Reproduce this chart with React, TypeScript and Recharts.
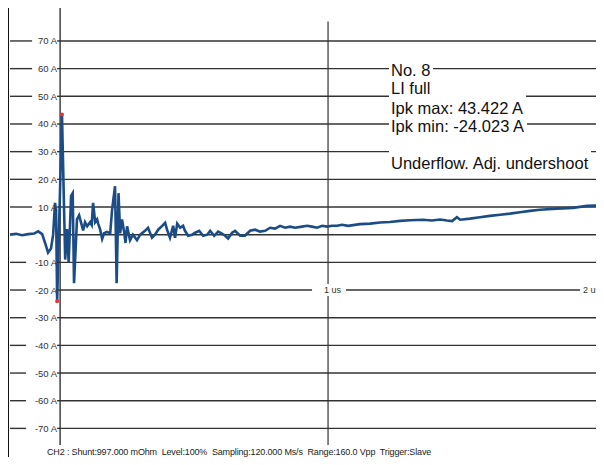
import React from 'react';
import { LineChart, Line, XAxis, YAxis, ReferenceLine, ReferenceDot } from 'recharts';

// time in microseconds, current in amperes
const timeUs = [
  -0.187, -0.164, -0.142, -0.119, -0.097, -0.082, -0.067, -0.056, -0.045, -0.034,
  -0.026, -0.019, -0.015, -0.011, 0.007, 0.019, 0.026, 0.032, 0.041, 0.047,
  0.052, 0.063, 0.071, 0.082, 0.086, 0.093, 0.101, 0.112, 0.118, 0.123,
  0.131, 0.138, 0.142, 0.149, 0.157, 0.164, 0.175, 0.187, 0.194, 0.205,
  0.211, 0.218, 0.224, 0.231, 0.239, 0.244, 0.25, 0.261, 0.272, 0.287,
  0.299, 0.317, 0.328, 0.343, 0.354, 0.366, 0.381, 0.392, 0.399, 0.41,
  0.422, 0.429, 0.437, 0.448, 0.459, 0.466, 0.478, 0.493, 0.504, 0.519,
  0.534, 0.549, 0.56, 0.575, 0.59, 0.604, 0.616, 0.627, 0.642, 0.653,
  0.672, 0.69, 0.709, 0.728, 0.746, 0.765, 0.784, 0.802, 0.821, 0.84,
  0.858, 0.877, 0.903, 0.922, 0.94, 0.959, 0.978, 0.996, 1.015, 1.034,
  1.052, 1.075, 1.119, 1.157, 1.194, 1.231, 1.269, 1.306, 1.354, 1.388,
  1.418, 1.444, 1.463, 1.481, 1.493, 1.53, 1.567, 1.604, 1.642, 1.679,
  1.716, 1.754, 1.791, 1.854, 1.914, 1.966, 2.004,
];

const currentA = [
  0.0, 0.3, -0.2, 0.2, 0.4, 1.2, 0.2, -3.0, -6.5, -5.0,
  0.0, 11.5, 9.0, -24.023, 43.422, -9.0, 2.0, -10.0, 14.0, 15.0,
  -17.5, 5.5, 7.0, 3.0, 1.5, 4.5, 3.0, 4.5, 3.5, 11.5,
  4.5, 5.5, 4.0, 2.0, -1.5, 0.5, 1.0, 0.5, 9.0, 17.5,
  -17.5, 15.0, 0.5, 5.5, 1.0, -3.0, 3.0, -2.0, 0.0, -2.0,
  0.0, 1.4, 2.5, -1.1, 0.0, 1.8, 3.2, 4.3, 1.8, -1.1,
  3.2, -1.1, 4.0, 2.5, 3.2, 1.4, -0.4, 0.0, 0.7, 1.4,
  -0.4, 0.0, 1.4, -0.4, 1.1, 0.4, -0.4, -1.4, 0.7, 1.4,
  -0.4, -0.4, 1.4, 1.8, 1.1, 1.4, 2.5, 2.2, 3.2, 2.5,
  2.9, 2.5, 2.9, 3.2, 2.9, 2.5, 3.2, 2.9, 3.2, 3.2,
  3.6, 3.2, 3.8, 4.0, 4.4, 4.6, 5.0, 5.2, 5.4, 5.1,
  5.5, 5.1, 4.9, 6.3, 5.4, 5.8, 6.3, 6.8, 7.2, 7.6,
  8.1, 8.6, 9.0, 9.4, 9.7, 10.4, 10.5,
];

const yTicks = [70, 60, 50, 40, 30, 20, 10, 0, -10, -20, -30, -40, -50, -60, -70];
const timeTicks = [1, 2];
const timeTickLabels = ['1 us', '2 us'];
const xDomain = [-0.187, 2.015];
const yDomain = [-76, 84.8];

const notes = ['No. 8', 'LI full', 'Ipk max: 43.422 A', 'Ipk min: -24.023 A', 'Underflow. Adj. undershoot'];
const footer = 'CH2 : Shunt:997.000 mOhm  Level:100%  Sampling:120.000 Ms/s  Range:160.0 Vpp  Trigger:Slave';

const data = timeUs.map((t, i) => ({ t, a: currentA[i] }));
const iMax = currentA.indexOf(Math.max(...currentA));
const iMin = currentA.indexOf(Math.min(...currentA));

const FONT = '"Liberation Sans", Arial, sans-serif';
const GRID = '#333';

// y tick label sitting left of the t=0 axis, with the short stub further left
const ampLabel = (v: number) => (props: any) => {
  const vb = props.viewBox || {};
  const x = vb.x + (vb.width || 0) / 2;
  const y = vb.y + (vb.height || 0) / 2;
  const label = `${v} A`;
  const w = label.length === 5 ? 24 : 18;
  return (
    <g>
      <line x1={10} x2={x - 2 - w - 8} y1={y} y2={y} stroke={GRID} strokeWidth={1.4} />
      <line x1={x - 3} x2={x} y1={y} y2={y} stroke={GRID} strokeWidth={1.4} />
      <text x={x - 3} y={y} dy={3.5} textAnchor="end" fontSize={9.5} fill="#333" fontFamily={FONT}>
        {label}
      </text>
    </g>
  );
};

const timeLabel = (text: string, shift: number) => (props: any) => {
  const vb = props.viewBox || {};
  const x = vb.x + (vb.width || 0) / 2;
  const y = vb.y + (vb.height || 0) / 2;
  return (
    <g>
      <rect x={x - 16} y={y - 6} width={34} height={12} fill="#fff" />
      <text x={x + shift} y={y} dy={3.2} fontSize={9} fill="#333" fontFamily={FONT}>
        {text}
      </text>
    </g>
  );
};

// placement of the annotation block (top, extra padding to cover the grid lines)
const noteBoxes = [
  { top: 61, pad: 0 },
  { top: 79, pad: 0 },
  { top: 95, pad: 4 },
  { top: 117, pad: 0 },
  { top: 147, pad: 7 },
];

export default function App() {
  return (
    <div style={{ position: 'relative', width: 604, height: 465, margin: -8, background: '#fff', overflow: 'hidden' }}>
      <div style={{ position: 'absolute', left: 7, top: 0, width: 2, height: 465, background: '#111' }} />
      <div style={{ position: 'absolute', left: 0, top: 0 }}>
        <LineChart width={604} height={465} data={data} margin={{ top: 0, right: 4, left: 10, bottom: 20 }}>
          <XAxis type="number" dataKey="t" domain={xDomain} allowDataOverflow hide />
          <YAxis type="number" domain={yDomain} allowDataOverflow hide />
          {yTicks.map((v) => (
            <ReferenceLine
              key={`g${v}`}
              segment={[{ x: 0, y: v }, { x: xDomain[1], y: v }]}
              stroke={GRID}
              strokeWidth={1.4}
            />
          ))}
          <ReferenceLine x={0} stroke={GRID} strokeWidth={1.4} />
          <ReferenceLine segment={[{ x: 1, y: yDomain[0] }, { x: 1, y: 77 }]} stroke={GRID} strokeWidth={1.2} />
          {yTicks
            .filter((v) => v !== 0)
            .map((v) => (
              <ReferenceDot
                key={`l${v}`}
                x={0}
                y={v}
                r={1}
                fill="none"
                stroke="none"
                label={{ content: ampLabel(v) }}
              />
            ))}
          {timeTicks.map((t, i) => (
            <ReferenceDot
              key={`t${t}`}
              x={t}
              y={-20}
              r={1}
              fill="none"
              stroke="none"
              label={{ content: timeLabel(timeTickLabels[i], i === 0 ? -4 : -13) }}
            />
          ))}
          <Line
            type="linear"
            dataKey="a"
            stroke="#1b4c86"
            strokeWidth={2.6}
            dot={false}
            isAnimationActive={false}
          />
          <ReferenceDot x={timeUs[iMax]} y={currentA[iMax]} r={2} fill="#e8343a" stroke="none" />
          <ReferenceDot x={timeUs[iMin]} y={currentA[iMin]} r={2} fill="#e8343a" stroke="none" />
        </LineChart>
      </div>
      {notes.map((n, i) => (
        <div
          key={n}
          style={{
            position: 'absolute',
            left: 389,
            top: noteBoxes[i].top,
            paddingTop: noteBoxes[i].pad,
            paddingLeft: 2,
            paddingRight: 3,
            background: '#fff',
            fontFamily: FONT,
            fontSize: 16.5,
            lineHeight: '18px',
            color: '#111',
            whiteSpace: 'nowrap',
          }}
        >
          {n}
        </div>
      ))}
      <div
        style={{
          position: 'absolute',
          left: 47,
          top: 446,
          fontFamily: FONT,
          fontSize: 9,
          letterSpacing: -0.15,
          lineHeight: '12px',
          color: '#222',
          whiteSpace: 'pre',
        }}
      >
        {footer}
      </div>
    </div>
  );
}
